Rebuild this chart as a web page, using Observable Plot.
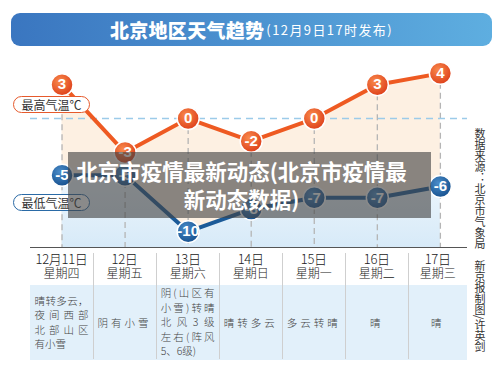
<!DOCTYPE html>
<html>
<head>
<meta charset="utf-8">
<script src="https://cdn.jsdelivr.net/npm/d3@7"></script>
<script src="https://cdn.jsdelivr.net/npm/@observablehq/plot@0.6"></script>
<style>
  body { margin: 0; background: #fff; }
  #page { position: relative; width: 500px; height: 371px; overflow: hidden;
          font-family: "Noto Sans CJK SC", "Noto Sans", sans-serif; color: #333; }
  #banner { position: absolute; left: 11px; top: 13px; width: 481px; height: 33px; border-radius: 9px;
            background: linear-gradient(90deg, #3a76c0, #5eaee0); color: #fff;
            display: flex; align-items: center; justify-content: center; }
  #banner .main { font-size: 19px; font-weight: 900; letter-spacing: 0.3px; }
  #banner .sub { font-size: 13px; font-weight: 400; letter-spacing: 1.4px; margin-left: 2px; }
  #chart { position: absolute; left: 0; top: 55px; }
  .pill { position: absolute; left: 13px; width: 75px; height: 15px; border-radius: 9px; background: #fff;
          font-size: 12px; line-height: 15px; text-align: center; color: #333; white-space: nowrap; }
  .cell-head { position: absolute; top: 252px; height: 33px; text-align: center; font-weight: 300; color: #222; }
  .cell-head .d { font-size: 13px; line-height: 14px; letter-spacing: -0.3px; }
  .cell-head .w { font-size: 12px; line-height: 14px; }
  .cell-body { position: absolute; top: 285px; height: 75px; background: #e2f0fa;
               display: flex; align-items: center; justify-content: center;
               font-size: 10.5px; font-weight: 300; color: #444; }
  .sep { position: absolute; top: 253px; height: 106px; width: 1px; background: #cfcfcf; }
  .lines div { width: 54px; line-height: 14.5px; text-align: justify; text-align-last: justify; white-space: nowrap; }
  .lines div.last { text-align-last: left; }
  .single { letter-spacing: 3px; }
  #overlay { position: absolute; left: 68px; top: 152px; width: 347px; height: 66px; padding-right: 16px;
             background: rgba(66,66,66,0.62); color: #fff; font-size: 21.5px; font-weight: 700;
             line-height: 28px; text-align: center; display: flex; align-items: center; justify-content: center;
             white-space: nowrap; }
  #credit { position: absolute; left: 472px; top: 128px; writing-mode: vertical-rl; font-size: 11px;
            color: #333; letter-spacing: 0; }
</style>
</head>
<body>
<div id="page"></div>
<script>
// Beijing seven-day forecast, issued 9 Dec 17:00
const days = ["12月11日", "12日", "13日", "14日", "15日", "16日", "17日"];
const weekdays = ["星期四", "星期五", "星期六", "星期日", "星期一", "星期二", "星期三"];
const highs = [3, -3, 0, -2, 0, 3, 4];
const lows = [-5, -5, -10, -8, -7, -7, -6];
const conditions = [
  ["晴转多云，", "夜间西部", "北部山区", "有小雪"],
  ["阴有小雪"],
  ["阴(山区有", "小雪)转晴", "北风3级", "左右(阵风", "5、6级)"],
  ["晴转多云"],
  ["多云转晴"],
  ["晴"],
  ["晴"]
];
const titleMain = "北京地区天气趋势";
const titleSub = "(12月9日17时发布)";
const highLabel = "最高气温℃";
const lowLabel = "最低气温℃";
const overlayLines = ["北京市疫情最新动态(北京市疫情最", "新动态数据)"];
const credit = "数据来源：北京市气象局　新京报制图/许英剑";

const page = document.getElementById("page");
const idx = d3.range(days.length);
const floorT = -11.4;

const chart = Plot.plot({
  width: 500,
  height: 200,
  marginLeft: 30,
  marginRight: 33,
  marginTop: 0,
  marginBottom: 8,
  x: {domain: [-0.5, 6.43], axis: null},
  y: {domain: [floorT, 5.58], axis: null},
  style: {background: "transparent", overflow: "visible"},
  marks: [
    Plot.areaY(idx, {x: i => i, y1: floorT, y2: i => highs[i], fill: "#fdf0e2"}),
    Plot.areaY(idx, {x: i => i, y1: floorT, y2: i => lows[i], fill: "url(#lowFill)"}),
    Plot.ruleX(idx, {x: i => i, y1: i => highs[i], y2: floorT, stroke: "#b5b5b5", strokeWidth: 1.3, strokeDasharray: "6,4"}),
    Plot.ruleY([0], {stroke: "#9ccbe9", strokeWidth: 1.5, strokeDasharray: "7,5"}),
    Plot.ruleY([floorT], {stroke: "#555", strokeWidth: 1.2}),
    Plot.line(idx, {x: i => i, y: i => highs[i], stroke: "#ee5a22", strokeWidth: 4}),
    Plot.line(idx, {x: i => i, y: i => lows[i], stroke: "#1b5a98", strokeWidth: 4}),
    Plot.dot(idx, {x: i => i, y: i => highs[i], r: 11, fill: "url(#highDot)", stroke: "#fff", strokeWidth: 1.5}),
    Plot.dot(idx, {x: i => i, y: i => lows[i], r: 11, fill: "url(#lowDot)", stroke: "#fff", strokeWidth: 1.5}),
    Plot.text(idx, {x: i => i, y: i => highs[i], text: i => String(highs[i]), fill: "#fff", fontSize: 15, fontWeight: "bold",
      fontFamily: "'Liberation Sans Narrow', 'Liberation Sans', sans-serif"}),
    Plot.text(idx, {x: i => i, y: i => lows[i], text: i => String(lows[i]), fill: "#fff", fontSize: 15, fontWeight: "bold",
      fontFamily: "'Liberation Sans Narrow', 'Liberation Sans', sans-serif"})
  ]
});
chart.id = "chart";

// gradients for the fills and the marker discs
const defs = d3.select(chart).insert("defs", ":first-child");
const lg = defs.append("linearGradient").attr("id", "lowFill").attr("x1", 0).attr("y1", 0).attr("x2", 0).attr("y2", 1);
lg.append("stop").attr("offset", 0).attr("stop-color", "#eef6fc");
lg.append("stop").attr("offset", 1).attr("stop-color", "#d7eaf8");
const hd = defs.append("radialGradient").attr("id", "highDot").attr("cx", 0.4).attr("cy", 0.35).attr("r", 0.7);
hd.append("stop").attr("offset", 0).attr("stop-color", "#f98a4c");
hd.append("stop").attr("offset", 1).attr("stop-color", "#dc3c18");
const ld = defs.append("radialGradient").attr("id", "lowDot").attr("cx", 0.4).attr("cy", 0.35).attr("r", 0.7);
ld.append("stop").attr("offset", 0).attr("stop-color", "#4a8cc9");
ld.append("stop").attr("offset", 1).attr("stop-color", "#144e8c");

// banner
const banner = document.createElement("div");
banner.id = "banner";
banner.innerHTML = `<span class="main">${titleMain}</span><span class="sub">${titleSub}</span>`;
page.appendChild(banner);

page.appendChild(chart);

// legend pills
const xs = chart.scale("x");
function pill(text, yPos, color) {
  const p = document.createElement("div");
  p.className = "pill";
  p.textContent = text;
  p.style.top = (yPos - 9) + "px";
  p.style.border = `1.5px solid ${color}`;
  page.appendChild(p);
}
pill(highLabel, 105, "#e65a2c");
pill(lowLabel, 203, "#2a6aa6");

// table of dates and conditions, columns aligned to the x scale
const [rx0, rx1] = xs.range;
const edge = i => Math.max(rx0, Math.min(rx1, xs.apply(i)));
idx.forEach(i => {
  const left = edge(i - 0.5), right = edge(i + 0.5);
  const w = right - left;
  const head = document.createElement("div");
  head.className = "cell-head";
  head.style.left = left + "px";
  head.style.width = w + "px";
  head.innerHTML = `<div class="d">${days[i]}</div><div class="w">${weekdays[i]}</div>`;
  page.appendChild(head);
  const body = document.createElement("div");
  body.className = "cell-body";
  body.style.left = left + "px";
  body.style.width = w + "px";
  const lines = conditions[i];
  if (lines.length > 1) {
    body.innerHTML = `<div class="lines">${lines.map((t, k) =>
      `<div class="${k === lines.length - 1 ? "last" : ""}">${t}</div>`).join("")}</div>`;
  } else {
    body.innerHTML = `<div class="single">${lines[0]}</div>`;
  }
  page.appendChild(body);
  if (i > 0) {
    const s = document.createElement("div");
    s.className = "sep";
    s.style.left = (left - 0.5) + "px";
    page.appendChild(s);
  }
});

// headline box
const ov = document.createElement("div");
ov.id = "overlay";
ov.innerHTML = `<div>${overlayLines.join("<br>")}</div>`;
page.appendChild(ov);

// source credit
const cr = document.createElement("div");
cr.id = "credit";
cr.textContent = credit;
page.appendChild(cr);
</script>
</body>
</html>
